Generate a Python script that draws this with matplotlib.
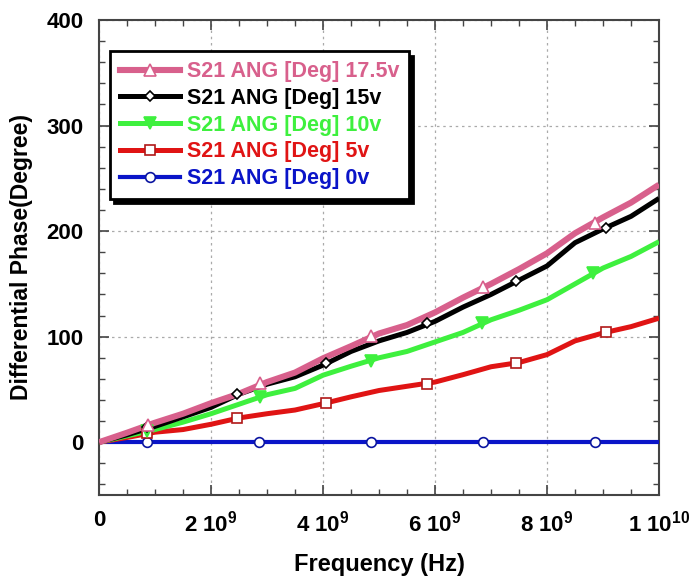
import numpy as np
import matplotlib
matplotlib.use("Agg")
import matplotlib.pyplot as plt
from matplotlib.lines import Line2D

plt.rcParams['font.family'] = ['Liberation Sans', 'DejaVu Sans']
plt.rcParams['font.weight'] = 'bold'
plt.rcParams['mathtext.fontset'] = 'custom'
plt.rcParams['mathtext.rm'] = 'Liberation Sans:bold'
plt.rcParams['mathtext.default'] = 'rm'

# ---- data (frequency in units of 1e9 Hz) ----
freq_ghz = [0, 0.5, 1.0, 1.5, 2.0, 2.5, 3.0, 3.5, 4.0, 4.5, 5.0,
            5.5, 6.0, 6.5, 7.0, 7.5, 8.0, 8.5, 9.0, 9.5, 10.0]
phase_175v = [0, 9, 18.5, 27, 37, 46, 57, 66, 79.5, 91, 103,
              111, 123, 137, 150, 164, 179, 198, 213, 227, 244]
phase_15v = [0, 7, 15, 24, 33, 45.5, 55, 62, 73, 86, 96,
             104, 114.5, 128, 140, 153.5, 167, 189, 202, 214, 231]
phase_10v = [0, 6, 12, 19, 27, 36, 45, 51, 63.5, 72, 80,
             86, 95, 104, 116, 125, 135, 150, 165, 176, 190]
phase_5v = [0, 4.5, 9.5, 12, 17, 23, 27, 30.5, 36.5, 43, 49,
            53, 57, 64, 71.5, 75.5, 83, 96, 103.5, 109.5, 117.5]
phase_0v = [0] * 21

# marker samples
mk_175v_x = [0.87, 2.87, 4.86, 6.86, 8.86]
mk_175v_y = [16, 56, 101, 147, 208]
mk_15v_x = [0.86, 2.46, 4.05, 5.86, 7.45, 9.05]
mk_15v_y = [14, 45.5, 75, 113, 153, 203]
mk_10v_x = [0.86, 2.87, 4.86, 6.84, 8.82]
mk_10v_y = [10.5, 43, 77, 113, 160]
mk_5v_x = [0.86, 2.46, 4.05, 5.86, 7.45, 9.05]
mk_5v_y = [8.5, 22.7, 37, 55, 75, 104]
mk_0v_x = [0.86, 2.86, 4.86, 6.86, 8.86]
mk_0v_y = [0, 0, 0, 0, 0]

labels = ['S21 ANG [Deg] 17.5v', 'S21 ANG [Deg] 15v', 'S21 ANG [Deg] 10v',
          'S21 ANG [Deg] 5v', 'S21 ANG [Deg] 0v']
xtick_vals = [0, 2, 4, 6, 8, 10]
xtick_labels = ['0', '2 10$^{9}$', '4 10$^{9}$', '6 10$^{9}$', '8 10$^{9}$', '1 10$^{10}$']
ytick_vals = [0, 100, 200, 300, 400]

colors = ['#d8608c', '#000000', '#3ef03e', '#e01414', '#0a14c8']
markers = ['^', 'D', 'v', 's', 'o']
mfaces = ['white', 'white', '#3ef03e', 'white', 'white']
msizes = [8, 5.5, 8, 7, 7]
lws = [4.4, 3.6, 3.6, 3.6, 3.0]

series = [phase_175v, phase_15v, phase_10v, phase_5v, phase_0v]
mks = [(mk_175v_x, mk_175v_y), (mk_15v_x, mk_15v_y), (mk_10v_x, mk_10v_y),
       (mk_5v_x, mk_5v_y), (mk_0v_x, mk_0v_y)]
medges = ['#d8608c', '#000000', '#3ef03e', '#b01818', '#0a14a0']

fig = plt.figure(figsize=(6.94, 5.78), dpi=100)
ax = fig.add_axes([0.1427, 0.1436, 0.8069, 0.8218])

x = np.array(freq_ghz) * 1e9
order = [4, 3, 2, 1, 0]
for i in order:
    ax.plot(x, series[i], color=colors[i], lw=lws[i], solid_capstyle='butt',
            solid_joinstyle='round', zorder=3 + (4 - i))
    ax.plot(np.array(mks[i][0]) * 1e9, mks[i][1], linestyle='none', marker=markers[i],
            markersize=msizes[i], markerfacecolor=mfaces[i], markeredgecolor=medges[i],
            markeredgewidth=1.2, zorder=10 + (4 - i))
handles = []
for i in range(5):
    handles.append(Line2D([0], [0], color=colors[i], lw=lws[i], marker=markers[i],
                          markersize=msizes[i], markerfacecolor=mfaces[i],
                          markeredgecolor=medges[i], markeredgewidth=1.2))

ax.set_xlim(0, 1e10)
ax.set_ylim(-50, 400)
ax.set_xticks(np.array(xtick_vals) * 1e9)
ax.set_xticklabels(xtick_labels)
ax.set_yticks(ytick_vals)
ax.set_xticks(np.arange(0, 10.01, 0.5) * 1e9, minor=True)
ax.set_yticks(np.arange(-40, 400, 20), minor=True)
ax.tick_params(which='both', direction='in', top=True, right=True, colors='#444444',
               labelcolor='black', labelsize=16, pad=11)
ax.tick_params(which='major', length=7, width=1.2)
ax.tick_params(which='minor', length=4.3, width=1.0)
for lab in ax.get_xticklabels() + ax.get_yticklabels():
    lab.set_fontweight('bold')
for s in ax.spines.values():
    s.set_color('#444444')
    s.set_linewidth(1.5)
ax.grid(True, which='major', color='#aaaaaa', linestyle=(0, (2, 3)), linewidth=0.9)
ax.set_axisbelow(True)

ax.set_xlabel('Frequency (Hz)', fontsize=17, fontweight='bold', labelpad=12)
ax.set_ylabel('Differential Phase(Degree)', fontsize=16.5, fontweight='bold', labelpad=10)

leg = ax.legend(handles, labels, loc='upper left', bbox_to_anchor=(0.02, 0.934),
                fontsize=15.5, handlelength=2.8, handletextpad=0.3, labelspacing=0.27,
                borderpad=0.45, fancybox=False, framealpha=1, edgecolor='black',
                shadow={'color': 'black', 'alpha': 1, 'ox': 3, 'oy': -3}, borderaxespad=0)
leg.get_frame().set_linewidth(2.0)
for t, c in zip(leg.get_texts(), colors):
    t.set_color(c)
    t.set_fontweight('bold')
leg.set_zorder(20)

fig.savefig('out.png', dpi=100)
